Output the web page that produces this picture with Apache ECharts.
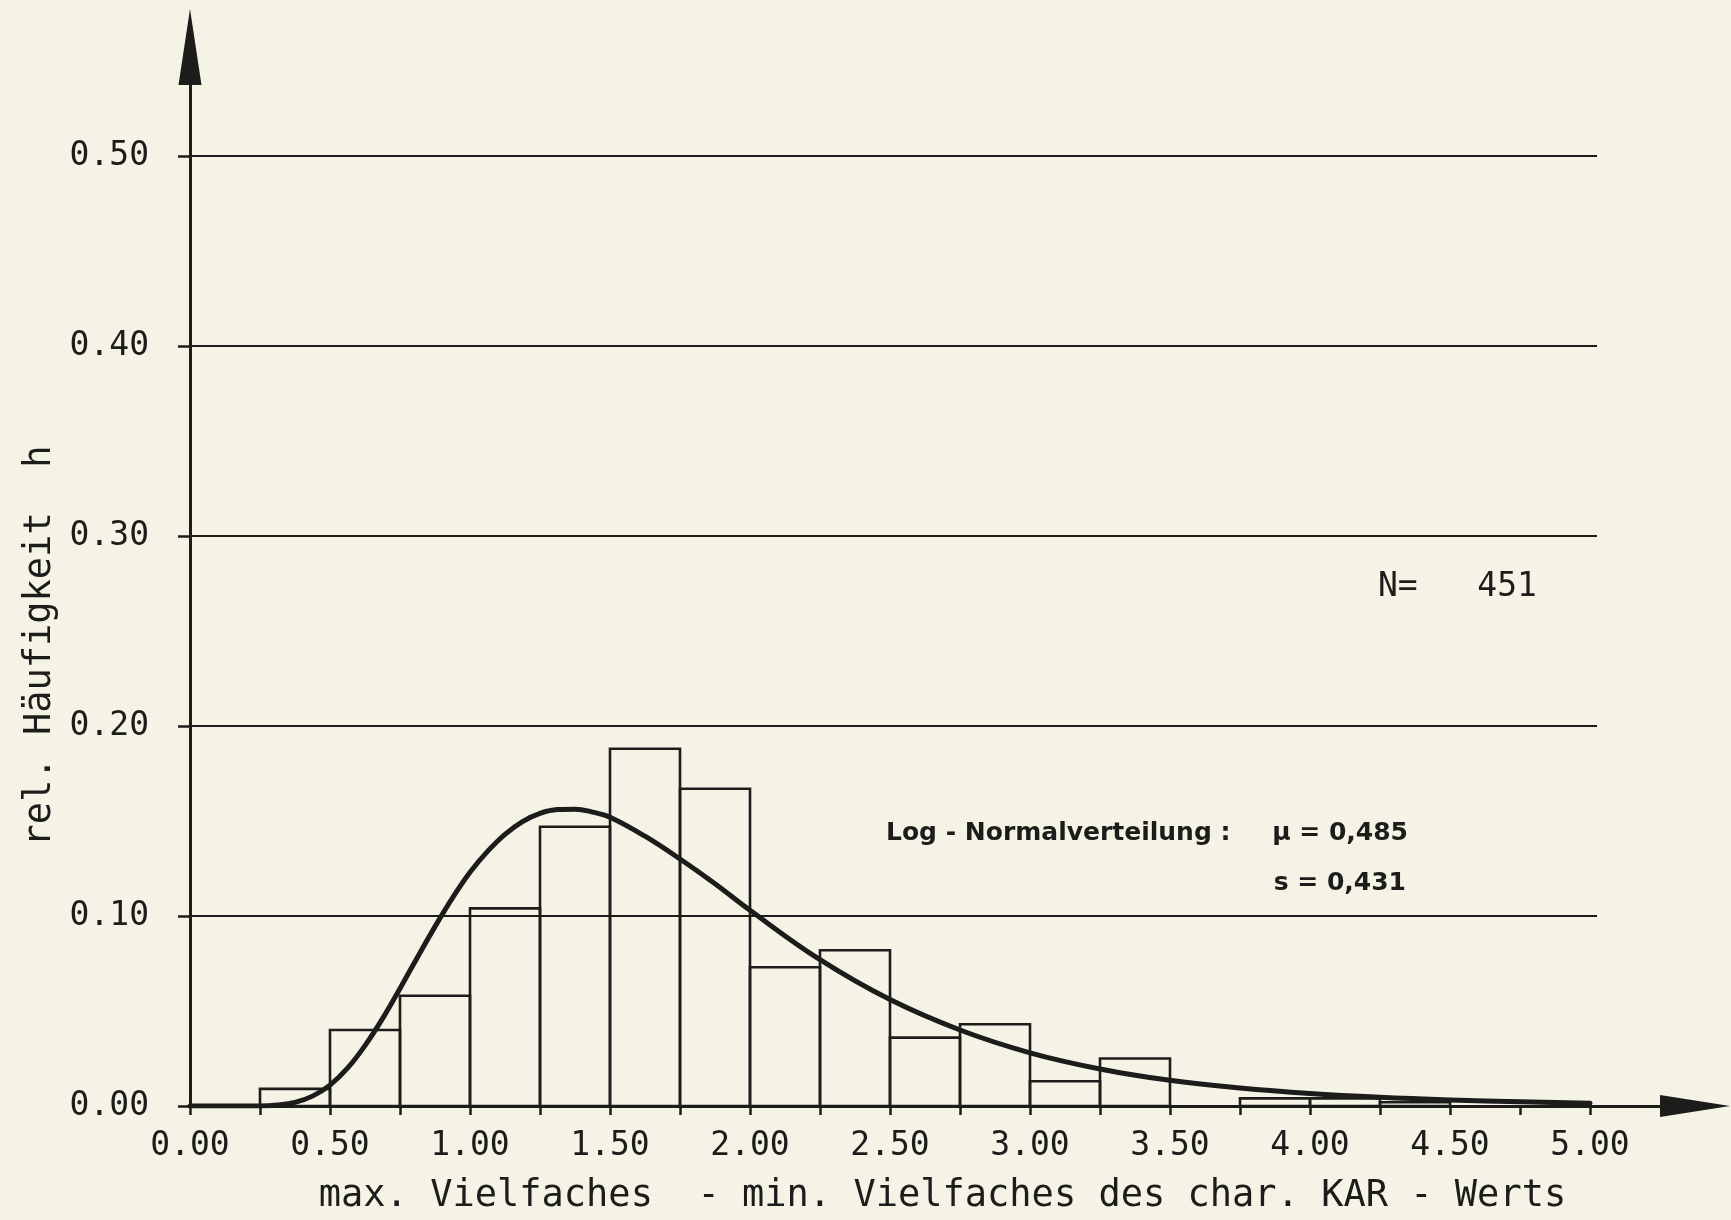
<!DOCTYPE html>
<html>
<head>
<meta charset="utf-8">
<script src="https://cdn.jsdelivr.net/npm/echarts@6/dist/echarts.min.js"></script>
<style>
  html, body { margin: 0; padding: 0; background: #f5f3e6; }
  #chart { width: 1731px; height: 1220px; }
</style>
</head>
<body>
<div id="chart"></div>
<script>
// Histogram: lower edge of each class (width 0.25) and relative frequency h
const binStarts = [0.25, 0.50, 0.75, 1.00, 1.25, 1.50, 1.75, 2.00, 2.25, 2.50, 2.75, 3.00, 3.25, 3.75, 4.00, 4.25];
const relFreq   = [0.009, 0.040, 0.058, 0.104, 0.147, 0.188, 0.167, 0.073, 0.082, 0.036, 0.043, 0.013, 0.025, 0.004, 0.004, 0.002];
const binWidth = 0.25;

// Fitted log-normal density (scaled to class width)
const curveX = [0, 0.125, 0.25, 0.3125, 0.375, 0.4375, 0.5, 0.5625, 0.625, 0.6875, 0.75, 0.8125, 0.875, 0.9375,
                1.0, 1.0625, 1.125, 1.1875, 1.25, 1.3125, 1.375, 1.4375, 1.5, 1.625, 1.75, 1.875, 2.0,
                2.25, 2.5, 2.75, 3.0, 3.25, 3.5, 3.75, 4.0, 4.25, 4.5, 4.75, 5.0];
const curveY = [0, 0, 0.000, 0.0005, 0.0019, 0.0052, 0.011, 0.0199, 0.0318, 0.046, 0.0619, 0.0783, 0.0944, 0.1095,
                0.123, 0.134, 0.143, 0.1497, 0.154, 0.156, 0.1562, 0.1547, 0.152, 0.142, 0.130, 0.117, 0.103,
                0.077, 0.056, 0.040, 0.028, 0.0195, 0.0135, 0.0095, 0.0066, 0.0046, 0.0032, 0.0022, 0.0015];

// Axis ticks and labels
const xTickValues  = [0, 0.25, 0.5, 0.75, 1, 1.25, 1.5, 1.75, 2, 2.25, 2.5, 2.75, 3, 3.25, 3.5, 3.75, 4, 4.25, 4.5, 4.75, 5];
const xLabelValues = [0, 0.5, 1, 1.5, 2, 2.5, 3, 3.5, 4, 4.5, 5];
const yTickValues  = [0, 0.1, 0.2, 0.3, 0.4, 0.5];
const gridValues   = [0.1, 0.2, 0.3, 0.4, 0.5];
const gridEnd = 5.025;

const sampleSize = 451;
const fitMu = '0,485';
const fitS = '0,431';

const xTitle = 'max. Vielfaches  - min. Vielfaches des char. KAR - Werts';
const yTitle = 'rel. Häufigkeit  h';

const INK = '#1c1c1a';
const MONO = "'DejaVu Sans Mono', monospace";
const NOTE_FONT = "bold 25px 'DejaVu Sans', sans-serif";

const chart = echarts.init(document.getElementById('chart'), null, { renderer: 'canvas' });

chart.setOption({
  backgroundColor: '#f5f3e6',
  animation: false,
  grid: { left: 190, right: 36, top: 42, bottom: 114, containLabel: false },
  xAxis: {
    type: 'value',
    min: 0,
    max: 5.375,
    axisLine: {
      show: true,
      onZero: false,
      lineStyle: { color: INK, width: 3 },
      symbol: ['none', 'triangle'],
      symbolSize: [22, 70]
    },
    axisTick: { show: true, customValues: xTickValues, length: 9, lineStyle: { color: INK, width: 2.5 } },
    axisLabel: {
      customValues: xLabelValues,
      formatter: v => v.toFixed(2),
      margin: 24,
      fontFamily: MONO,
      fontSize: 33,
      color: INK
    },
    splitLine: { show: false },
    name: xTitle,
    nameLocation: 'middle',
    nameGap: 72,
    nameTextStyle: { fontFamily: MONO, fontSize: 37, color: INK }
  },
  yAxis: {
    type: 'value',
    min: 0,
    max: 0.56,
    axisLine: {
      show: true,
      lineStyle: { color: INK, width: 3 },
      symbol: ['none', 'triangle'],
      symbolSize: [23, 76],
      symbolOffset: [0, -5]
    },
    axisTick: { show: true, customValues: yTickValues, length: 12, lineStyle: { color: INK, width: 2.5 } },
    axisLabel: {
      customValues: yTickValues,
      formatter: v => v.toFixed(2),
      margin: 41,
      fontFamily: MONO,
      fontSize: 33,
      color: INK
    },
    splitLine: { show: false }
  },
  series: [
    {
      type: 'custom',
      name: 'Klassen',
      data: binStarts.map((x, i) => [x, relFreq[i]]),
      encode: { x: 0, y: 1 },
      renderItem(params, api) {
        const x0 = api.value(0);
        const h = api.value(1);
        const topLeft = api.coord([x0, h]);
        const bottomRight = api.coord([x0 + binWidth, 0]);
        return {
          type: 'rect',
          shape: {
            x: topLeft[0],
            y: topLeft[1],
            width: bottomRight[0] - topLeft[0],
            height: bottomRight[1] - topLeft[1]
          },
          style: { fill: 'none', stroke: INK, lineWidth: 2.6 }
        };
      },
      z: 3
    },
    {
      type: 'line',
      name: 'Log-Normalverteilung',
      data: curveX.map((x, i) => [x, curveY[i]]),
      smooth: 0.4,
      showSymbol: false,
      lineStyle: { color: INK, width: 5, cap: 'round', join: 'round' },
      z: 4,
      markLine: {
        silent: true,
        symbol: ['none', 'none'],
        label: { show: false },
        lineStyle: { color: INK, width: 2, type: 'solid' },
        data: gridValues.map(v => [{ coord: [0, v] }, { coord: [gridEnd, v] }])
      }
    }
  ],
  graphic: [
    {
      type: 'text',
      x: 40,
      y: 646,
      rotation: Math.PI / 2,
      style: { text: yTitle, font: "37px 'DejaVu Sans Mono', monospace", fill: INK, align: 'center', verticalAlign: 'middle' }
    },
    {
      type: 'text',
      x: 1378,
      y: 587,
      style: { text: 'N=   ' + sampleSize, font: "33px 'DejaVu Sans Mono', monospace", fill: INK, align: 'left', verticalAlign: 'middle' }
    },
    {
      type: 'text',
      x: 886,
      y: 833,
      style: { text: 'Log - Normalverteilung :', font: NOTE_FONT, fill: INK, align: 'left', verticalAlign: 'middle' }
    },
    {
      type: 'text',
      x: 1408,
      y: 833,
      style: { text: 'μ = ' + fitMu, font: NOTE_FONT, fill: INK, align: 'right', verticalAlign: 'middle' }
    },
    {
      type: 'text',
      x: 1406,
      y: 883,
      style: { text: 's = ' + fitS, font: NOTE_FONT, fill: INK, align: 'right', verticalAlign: 'middle' }
    }
  ]
});
</script>
</body>
</html>
